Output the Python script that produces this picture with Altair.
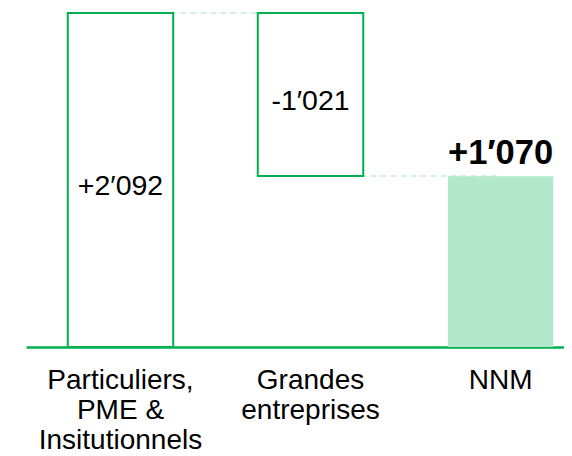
import altair as alt
import pandas as pd

categories = ["Particuliers,\nPME &\nInsitutionnels", "Grandes\nentreprises", "NNM"]
deltas = [2092, -1021, 1070]
labels = ["+2′092", "-1′021", "+1′070"]
kinds = ["step", "step", "total"]

starts, ends = [], []
run = 0
for d, k in zip(deltas, kinds):
    if k == "total":
        starts.append(0)
        ends.append(d)
        run = d
    else:
        s, e = run, run + d
        starts.append(min(s, e))
        ends.append(max(s, e))
        run = e

df = pd.DataFrame({
    "cat": categories,
    "start": starts,
    "end": ends,
    "label": labels,
    "kind": kinds,
    "mid": [(a + b) / 2 for a, b in zip(starts, ends)],
})
conn = pd.DataFrame({
    "cat": categories[:-1],
    "next": categories[1:],
    "level": [ends[0], starts[1]],
})

GREEN = "#00b050"
FILL = "#b3e8cd"
FONT = "Liberation Sans"

xscale = alt.Scale(domain=categories, paddingInner=0.445, paddingOuter=0.138, align=0.796)
yscale = alt.Scale(domain=[0, 2092], nice=False, zero=True)

xenc = alt.X("cat:N", scale=xscale, sort=categories, title=None,
             axis=alt.Axis(labelAngle=0, labelExpr="split(datum.label, '\\n')",
                           labelFont=FONT, labelFontSize=28, labelColor="#000000",
                           labelLineHeight=30, labelPadding=41, ticks=False,
                           labelAlign="center", labelBaseline="alphabetic",
                           domainColor=GREEN, domainWidth=2.5))

connectors = alt.Chart(conn).mark_rule(color="#c6ecd8", strokeWidth=1.5, strokeDash=[6, 4]).encode(
    x=alt.X("cat:N", scale=xscale, sort=categories),
    x2="next:N",
    y=alt.Y("level:Q", scale=yscale, axis=None),
)

steps = alt.Chart(df).transform_filter("datum.kind == 'step'").mark_bar(
    fill="white", stroke=GREEN, strokeWidth=2
).encode(
    x=xenc,
    y=alt.Y("start:Q", scale=yscale, axis=None),
    y2="end:Q",
)

total = alt.Chart(df).transform_filter("datum.kind == 'total'").mark_bar(
    fill=FILL, strokeWidth=0
).encode(
    x=alt.X("cat:N", scale=xscale, sort=categories),
    y=alt.Y("start:Q", scale=yscale, axis=None),
    y2="end:Q",
)

inner_text = alt.Chart(df).transform_filter("datum.kind == 'step'").mark_text(
    font=FONT, fontSize=28.5, color="#000000", baseline="middle", dy=6
).encode(
    x=alt.X("cat:N", scale=xscale, sort=categories),
    y=alt.Y("mid:Q", scale=yscale, axis=None),
    text="label:N",
)

total_text = alt.Chart(df).transform_filter("datum.kind == 'total'").mark_text(
    font=FONT, fontSize=34.5, fontWeight="bold", color="#000000", baseline="alphabetic", dy=-12
).encode(
    x=alt.X("cat:N", scale=xscale, sort=categories),
    y=alt.Y("end:Q", scale=yscale, axis=None),
    text="label:N",
)

chart = alt.layer(connectors, steps, total, inner_text, total_text).properties(
    width=538, height=334,
    autosize=alt.AutoSizeParams(type="none"),
    padding={"left": 18, "top": 5, "right": 0, "bottom": 109},
).configure_view(stroke=None)

chart.save("out.html", embed_options={"renderer": "svg", "actions": False})
